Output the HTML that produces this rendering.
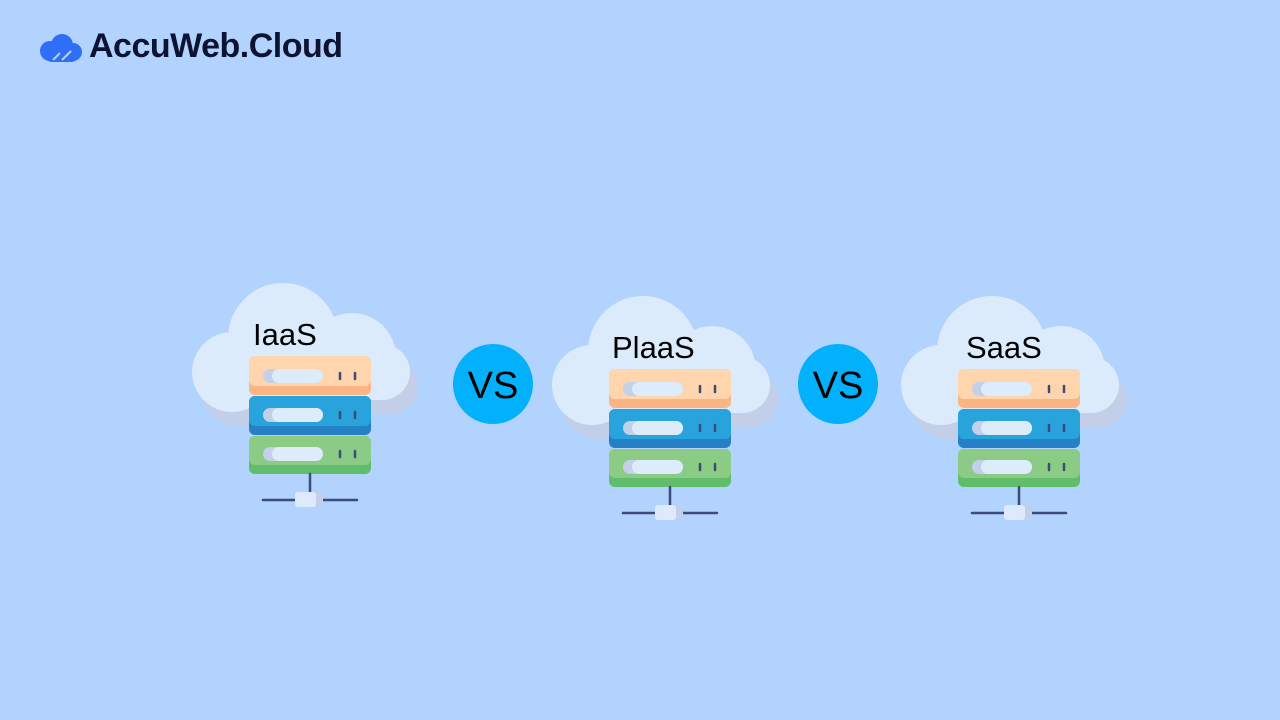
<!DOCTYPE html>
<html><head><meta charset="utf-8"><style>
html,body{margin:0;padding:0}
body{width:1280px;height:720px;background:#b1d3fd;overflow:hidden;position:relative;font-family:"Liberation Sans",sans-serif}
.logo{position:absolute;left:89px;top:27px;font-size:34px;font-weight:bold;color:#0d1330;letter-spacing:-0.5px}
</style></head><body>
<svg width="1280" height="720" style="position:absolute;left:0;top:0">
<!-- logo cloud -->
<g fill="#2f6ef6">
<circle cx="62" cy="45" r="11"/><circle cx="50" cy="51" r="10"/><circle cx="73" cy="52" r="9"/>
<rect x="45" y="48" width="33" height="14" rx="7"/>
</g>
<g stroke="#b1d3fd" stroke-width="2" fill="none"><path d="M53 60 L60 53 M62 60 L71 51"/></g>

<g id="i1">
<g fill="#c3cfe9" transform="translate(8,14)">
<circle cx="283" cy="338" r="55"/><circle cx="352" cy="357" r="44"/><circle cx="382" cy="372" r="28"/><circle cx="232" cy="372" r="40"/><rect x="232" y="360" width="150" height="40"/>
</g>
<g fill="#dbebfb">
<circle cx="283" cy="338" r="55"/><circle cx="352" cy="357" r="44"/><circle cx="382" cy="372" r="28"/><circle cx="232" cy="372" r="40"/><rect x="232" y="360" width="150" height="40"/>
</g>
<!-- rows -->
<rect x="249" y="356" width="122" height="39" rx="6" fill="#fbb584"/>
<rect x="249" y="356" width="122" height="30" rx="6" fill="#fed5ac"/>
<rect x="249" y="396" width="122" height="39" rx="6" fill="#2680c6"/>
<rect x="249" y="396" width="122" height="30" rx="6" fill="#29a3dc"/>
<rect x="249" y="436" width="122" height="38" rx="6" fill="#5fbd6c"/>
<rect x="249" y="436" width="122" height="29" rx="6" fill="#8bcb85"/>
<g>
<rect x="263" y="369" width="60" height="14" rx="7" fill="#c4d0ea"/><rect x="272" y="369" width="51" height="14" rx="7" fill="#dcecfb"/>
<rect x="263" y="408" width="60" height="14" rx="7" fill="#c4d0ea"/><rect x="272" y="408" width="51" height="14" rx="7" fill="#dcecfb"/>
<rect x="263" y="447" width="60" height="14" rx="7" fill="#c4d0ea"/><rect x="272" y="447" width="51" height="14" rx="7" fill="#dcecfb"/>
</g>
<g stroke="#3d4a7a" stroke-width="2.5" stroke-linecap="round">
<path d="M340 373v6M355 373v6M340 412v6M355 412v6M340 451v6M355 451v6"/>
<path d="M310 474v19M263 500h94"/>
</g>
<rect x="295" y="492" width="28" height="15" rx="3" fill="#c3cfe9"/>
<rect x="295" y="492" width="21" height="15" rx="3" fill="#dceafb"/>
</g>
<use href="#i1" transform="translate(360,13)"/>
<use href="#i1" transform="translate(709,13)"/>

<text x="253" y="345" font-family="Liberation Sans" font-size="31" fill="#000">IaaS</text>
<text x="612" y="358" font-family="Liberation Sans" font-size="31" fill="#000">PlaaS</text>
<text x="966" y="358" font-family="Liberation Sans" font-size="31" fill="#000">SaaS</text>

<circle cx="493" cy="384" r="40" fill="#03b0fb"/>
<circle cx="838" cy="384" r="40" fill="#03b0fb"/>
<text x="493" y="398" text-anchor="middle" font-family="Liberation Sans" font-size="38" fill="#000">VS</text>
<text x="838" y="398" text-anchor="middle" font-family="Liberation Sans" font-size="38" fill="#000">VS</text>
</svg>
<div class="logo">AccuWeb.Cloud</div>
</body></html>
